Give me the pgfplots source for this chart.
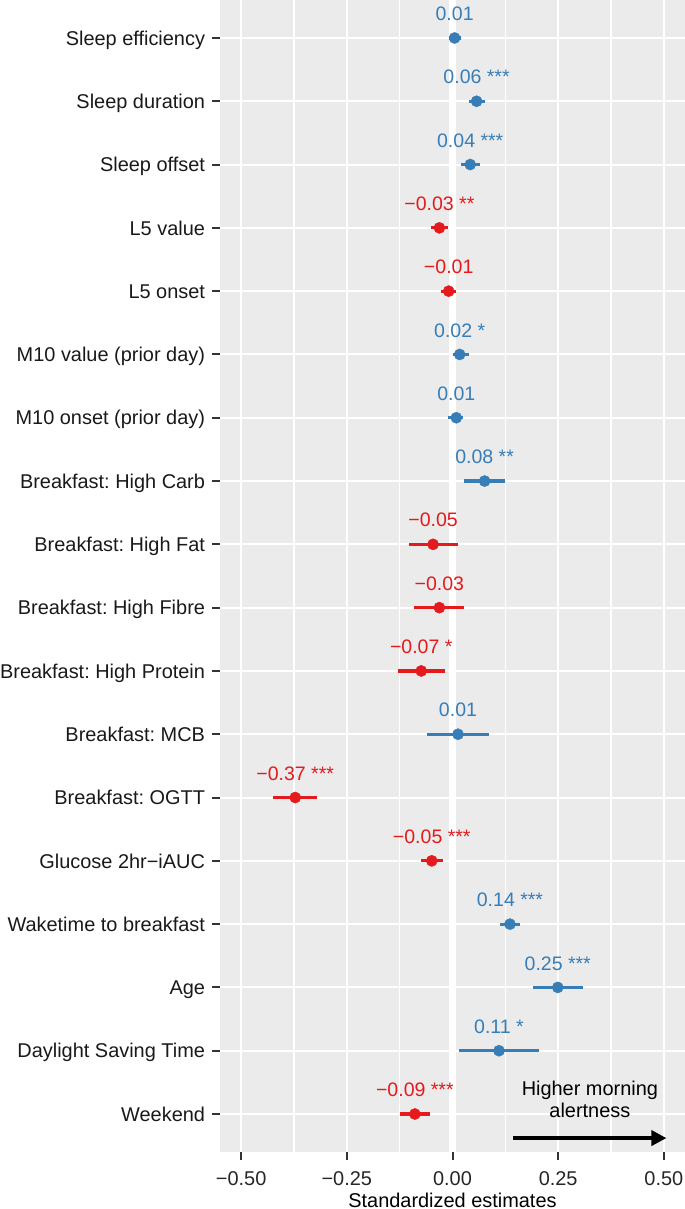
\documentclass[border=0pt]{standalone}
\usepackage{pgfplots}
\pgfplotsset{compat=1.18}
\usepackage{pgfplotstable}
\usepackage{fontspec}
\setmainfont{Liberation Sans}
\usetikzlibrary{arrows.meta}
\frenchspacing
\definecolor{bluec}{HTML}{377EB8}
\definecolor{redc}{HTML}{E41A1C}
\definecolor{panelbg}{HTML}{EBEBEB}
\definecolor{tickc}{HTML}{333333}

\pgfplotstableread[col sep=comma]{
y,x,em,ep,lab
18,0.005,0.013,0.015,0.01
17,0.057,0.019,0.019,0.06 ***
16,0.042,0.023,0.023,0.04 ***
13,0.017,0.016,0.021,0.02 *
12,0.009,0.020,0.016,0.01
11,0.076,0.048,0.049,0.08 **
7,0.013,0.073,0.073,0.01
4,0.136,0.023,0.024,0.14 ***
3,0.249,0.058,0.060,0.25 ***
2,0.110,0.094,0.094,0.11 *
}\bluedata

\pgfplotstableread[col sep=comma]{
y,x,em,ep,lab
15,-0.031,0.021,0.020,−0.03 **
14,-0.009,0.018,0.017,−0.01
10,-0.046,0.058,0.058,−0.05
9,-0.031,0.059,0.059,−0.03
8,-0.074,0.055,0.057,−0.07 *
6,-0.372,0.053,0.052,−0.37 ***
5,-0.049,0.025,0.026,−0.05 ***
1,-0.089,0.036,0.036,−0.09 ***
}\reddata

\begin{document}
\begin{tikzpicture}
\begin{axis}[
  scale only axis,
  width=232.5bp, height=576bp,
  xmin=-0.55, xmax=0.55,
  ymin=0.4, ymax=18.6,
  axis background/.style={fill=panelbg},
  axis line style={draw=none},
  xtick={-0.5,-0.25,0,0.25,0.5},
  xticklabels={−0.50,−0.25,0.00,0.25,0.50},
  minor xtick={-0.375,-0.125,0.125,0.375},
  ytick={1,...,18},
  yticklabels={Weekend,Daylight Saving Time,Age,Waketime to breakfast,Glucose 2hr−iAUC,Breakfast: OGTT,Breakfast: MCB,Breakfast: High Protein,Breakfast: High Fibre,Breakfast: High Fat,Breakfast: High Carb,M10 onset (prior day),M10 value (prior day),L5 onset,L5 value,Sleep offset,Sleep duration,Sleep efficiency},
  xtick pos=bottom, ytick pos=left,
  tick align=outside,
  major tick length=3.9bp,
  minor tick length=0pt,
  tick style={color=tickc, line width=1bp},
  grid=both,
  major grid style={white, line width=1bp},
  minor grid style={white, line width=0.55bp},
  xticklabel style={font=\fontsize{10}{12}\selectfont, text=black!85, anchor=base, inner sep=0pt, yshift=-12.6bp},
  yticklabel style={font=\fontsize{10}{12}\selectfont, text=black!90, anchor=base east, inner sep=0pt, xshift=-3.4bp, yshift=-3.6bp},
  xlabel={Standardized estimates},
  xlabel style={font=\fontsize{10}{12}\selectfont, at={(axis description cs:0.5,0)}, anchor=base, inner sep=0pt, yshift=-27.6bp},
  clip=false,
]
\addplot[white, line width=3.6bp, forget plot] coordinates {(0,0.4) (0,18.6)};

\addplot[only marks, mark=*, mark size=2.8bp, color=bluec, mark options={line width=0.2bp},
  nodes near coords, point meta=explicit symbolic,
  nodes near coords style={font=\fontsize{9.8}{12}\selectfont, text=bluec, anchor=base, inner sep=0pt, yshift=8.7bp},
  error bars/.cd, x dir=both, x explicit, error mark=none,
  error bar style={line width=1.6bp, color=bluec}]
  table[x=x, y=y, x error minus=em, x error plus=ep, meta=lab]{\bluedata};

\addplot[only marks, mark=*, mark size=2.8bp, color=redc, mark options={line width=0.2bp},
  nodes near coords, point meta=explicit symbolic,
  nodes near coords style={font=\fontsize{9.8}{12}\selectfont, text=redc, anchor=base, inner sep=0pt, yshift=8.7bp},
  error bars/.cd, x dir=both, x explicit, error mark=none,
  error bar style={line width=1.6bp, color=redc}]
  table[x=x, y=y, x error minus=em, x error plus=ep, meta=lab]{\reddata};

\draw[-{Triangle[length=7.5bp,width=7.5bp]}, line width=2.35bp, black] (axis cs:0.144,0.62) -- (axis cs:0.506,0.62);
\node[font=\fontsize{10}{12}\selectfont, anchor=base, inner sep=0pt] at (axis cs:0.325,1.30) {Higher morning};
\node[font=\fontsize{10}{12}\selectfont, anchor=base, inner sep=0pt] at (axis cs:0.325,0.945) {alertness};
\end{axis}
\pgfresetboundingbox
\path (-110bp,-28.5bp) rectangle (232.5bp,576bp);
\end{tikzpicture}
\end{document}
